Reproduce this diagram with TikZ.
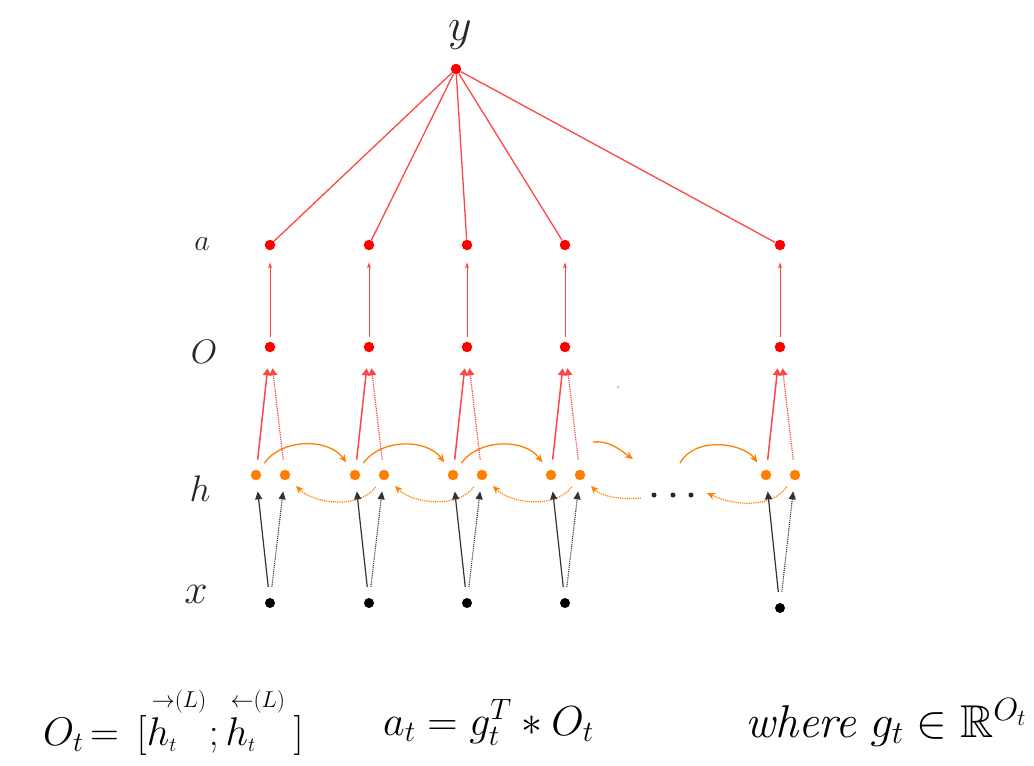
\RequirePackage{fix-cm}
\documentclass[tikz,border=0pt]{standalone}
\usepackage{amssymb}
\usetikzlibrary{arrows.meta}
\definecolor{orng}{RGB}{255,128,0}
\definecolor{lred}{RGB}{255,70,70}
\newcommand\hsup[1]{\rlap{\hspace{5pt}\raisebox{38pt}{\fontsize{23}{25}\selectfont$\mathord{#1}(L)$}}h_{\scriptscriptstyle t}}
\begin{document}
\begin{tikzpicture}[x=1pt,y=-1pt,
  dotR/.style={circle,fill=red,draw=none,inner sep=0pt,minimum size=10.5pt},
  dotO/.style={circle,fill=orng,draw=none,inner sep=0pt,minimum size=10.5pt},
  dotK/.style={circle,fill=black,draw=none,inner sep=0pt,minimum size=10pt},
  smalldot/.style={circle,fill=black!85,draw=none,inner sep=0pt,minimum size=5pt},
  lab/.style={inner sep=0pt,text=black!85},
  yline/.style={lred,line width=1.3pt},
  oa/.style={red!75,line width=0.8pt,-{Stealth[length=6pt,width=4pt,open]},shorten <=5pt,shorten >=12pt},
  ho/.style={lred,line width=1.5pt,-{Triangle[length=7pt,width=8pt]},shorten <=10pt,shorten >=16pt},
  hod/.style={lred,line width=1.2pt,densely dotted,-{Triangle[length=7pt,width=8pt]},shorten <=10pt,shorten >=16pt},
  xh/.style={black!80,line width=1.2pt,-{Triangle[length=8pt,width=7pt]},shorten <=11pt,shorten >=11pt},
  xhd/.style={black!80,line width=1.1pt,densely dotted,-{Triangle[length=8pt,width=7pt]},shorten <=11pt,shorten >=11pt},
  fwd/.style={orng,line width=1.3pt,-{Stealth[length=8pt,width=7pt]},shorten <=9pt,shorten >=10pt},
  bwd/.style={orng,line width=1.2pt,densely dotted,-{Stealth[length=8pt,width=7pt]},shorten <=9pt,shorten >=10pt}
]
\useasboundingbox (0,0) rectangle (1034,766);

% top node
\node[dotR] (y) at (456,69) {};
\node[lab,font=\fontsize{46}{50}\selectfont] (ylab) at (460,35) {$y$};

% row labels
\node[lab,font=\fontsize{30}{36}\selectfont] (la) at (202,244) {$a$};
\node[lab,font=\fontsize{34}{40}\selectfont] (lo) at (204,352) {$O$};
\node[lab,font=\fontsize{37}{44}\selectfont] (lh) at (200,489) {$h$};
\node[lab,font=\fontsize{42}{48}\selectfont] (lx) at (196,594) {$x$};

% columns
\foreach \i/\xc/\xy in {1/270/603,2/369/603,3/467/603,4/565/603,5/780/608}{
  \node[dotR] (a\i) at (\xc,245) {};
  \node[dotR] (o\i) at (\xc,347) {};
  \node[dotO] (hL\i) at (\xc-14,475) {};
  \node[dotO] (hR\i) at (\xc+15,475) {};
  \node[dotK] (x\i) at (\xc,\xy) {};
}

% orange recurrent connections
\foreach \i in {1,2,3}{
  \pgfmathtruncatemacro\j{\i+1}
  \draw[fwd] (hL\i) to[out=55,in=125,looseness=1.1] (hL\j);
  \draw[bwd] (hR\j) to[out=235,in=-45] (hR\i);
}
\coordinate (f4s) at (593,442);
\coordinate (f4e) at (633,459);
\draw[fwd,shorten <=0pt,shorten >=0pt] (f4s) to[out=5,in=145] (f4e);
\coordinate (f5s) at (680,463);
\draw[fwd,shorten <=0pt] (f5s) to[out=60,in=125] (hL5);
\coordinate (b4s) at (641,498);
\draw[bwd,shorten <=0pt] (b4s) to[out=185,in=-45] (hR4);
\coordinate (b5e) at (707,493);
\draw[bwd,shorten >=0pt] (hR5) to[out=235,in=-25] (b5e);

% ellipsis dots
\node[smalldot] (d1) at (654,495) {};
\node[smalldot] (d2) at (673,495) {};
\node[smalldot] (d3) at (691,495) {};

% faint speck
\node[circle,fill=red!30,inner sep=0pt,minimum size=3pt] (speck) at (618,387) {};

% vertical connections
\foreach \i in {1,...,5}{
  \draw[yline] (y) -- (a\i);
  \draw[oa] (o\i) -- (a\i);
  \draw[ho] (hL\i) -- (o\i);
  \draw[hod] (hR\i) -- (o\i);
  \draw[xh] (x\i) -- (hL\i);
  \draw[xhd] (x\i) -- (hR\i);
}

% equations
\node[anchor=base west,inner sep=0pt,font=\fontsize{40}{48}\selectfont] (eq1) at (43,745)
  {$O_t\mkern3mu{=}\mkern8mu[\hsup{\rightarrow}\hspace{32pt};\hsup{\leftarrow}\hspace{38pt}]$};
\node[anchor=base west,inner sep=0pt,font=\fontsize{42}{48}\selectfont] (eq2) at (383,735)
  {$a_t = g_t^T * O_t$};
\node[anchor=base west,inner sep=0pt,font=\fontsize{46}{52}\selectfont] (eq3) at (745,737)
  {\textit{where} $g_t \in \mathbb{R}^{O_t}$};
\end{tikzpicture}
\end{document}
